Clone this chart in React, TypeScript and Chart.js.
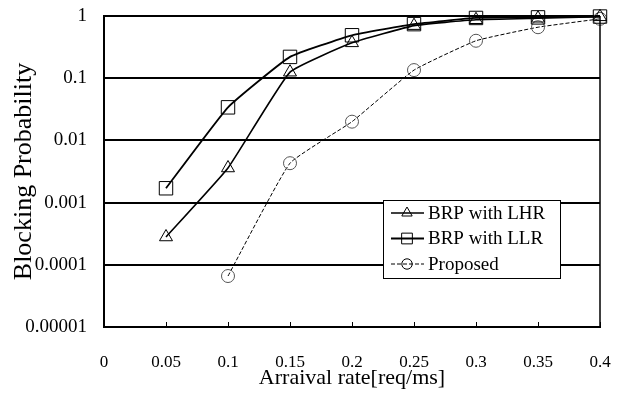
import React, { useEffect, useRef } from "react";
import { Chart, registerables } from "chart.js";

Chart.register(...registerables);

const xValues = [0.05, 0.1, 0.15, 0.2, 0.25, 0.3, 0.35, 0.4];
const lhrValues = [0.00028, 0.0036, 0.125, 0.37, 0.7, 0.87, 0.92, 0.97];
const llrValues = [0.0017, 0.034, 0.22, 0.49, 0.74, 0.93, 0.95, 0.98];
const proposedValues: (number | null)[] = [null, 0.000066, 0.0043, 0.02, 0.135, 0.4, 0.66, 0.9];

const xTickValues = [0, 0.05, 0.1, 0.15, 0.2, 0.25, 0.3, 0.35, 0.4];
const xTickLabels = ["0", "0.05", "0.1", "0.15", "0.2", "0.25", "0.3", "0.35", "0.4"];
const yTickValues = [0.00001, 0.0001, 0.001, 0.01, 0.1, 1];
const yTickLabels = ["0.00001", "0.0001", "0.001", "0.01", "0.1", "1"];

const seriesNames = ["BRP with LHR", "BRP with LLR", "Proposed"];
const xTitle = "Arraival rate[req/ms]";
const yTitle = "Blocking Probability";

const FONT = "'Liberation Serif', 'Times New Roman', serif";

function drawMarker(ctx: CanvasRenderingContext2D, style: string, x: number, y: number, r: number) {
  ctx.beginPath();
  if (style === "triangle") {
    const h = r * 1.5;
    const w = r * Math.sqrt(3);
    ctx.moveTo(x, y - r);
    ctx.lineTo(x + w / 2, y - r + h);
    ctx.lineTo(x - w / 2, y - r + h);
    ctx.closePath();
  } else if (style === "rect") {
    const s = r * Math.SQRT1_2;
    ctx.rect(x - s, y - s, 2 * s, 2 * s);
  } else {
    ctx.arc(x, y, r, 0, Math.PI * 2);
  }
  ctx.stroke();
}

export default function App() {
  const ref = useRef<HTMLCanvasElement>(null);

  useEffect(() => {
    const canvas = ref.current;
    if (!canvas) return;
    const mk = (vals: (number | null)[]) =>
      xValues.map((x, i) => ({ x, y: vals[i] })).filter((p) => p.y !== null);

    const framePlugin = {
      id: "framePlugin",
      afterDatasetsDraw(chart: any) {
        const { ctx, chartArea: a, scales } = chart;
        ctx.save();
        ctx.strokeStyle = "#000";
        ctx.lineWidth = 1.5;
        ctx.beginPath();
        ctx.moveTo(a.right, a.top);
        ctx.lineTo(a.right, a.bottom);
        ctx.stroke();
        ctx.lineWidth = 1;
        for (const v of xTickValues) {
          const px = Math.round(scales.x.getPixelForValue(v)) + 0.5;
          ctx.beginPath();
          ctx.moveTo(px, a.bottom);
          ctx.lineTo(px, a.bottom - 5);
          ctx.stroke();
        }
        // legend
        const lx = 383, ly = 200, lw = 177, lh = 78;
        ctx.fillStyle = "#fff";
        ctx.fillRect(lx, ly, lw, lh);
        ctx.lineWidth = 1;
        ctx.setLineDash([]);
        ctx.strokeRect(lx + 0.5, ly + 0.5, lw, lh);
        ctx.font = `19px ${FONT}`;
        ctx.textBaseline = "middle";
        ctx.fillStyle = "#000";
        chart.data.datasets.forEach((ds: any, i: number) => {
          const cy = 213 + i * 25.5;
          ctx.strokeStyle = "#000";
          ctx.lineWidth = ds.borderWidth;
          ctx.setLineDash(ds.borderDash || []);
          ctx.beginPath();
          ctx.moveTo(391, cy);
          ctx.lineTo(424, cy);
          ctx.stroke();
          ctx.setLineDash([]);
          ctx.lineWidth = 1;
          drawMarker(ctx, ds.pointStyle, 407, cy, ds.pointRadius * 0.8);
          ctx.fillText(seriesNames[i], 428, cy + 1);
        });
        ctx.restore();
      },
    };

    const chart = new Chart(canvas, {
      type: "line",
      data: {
        datasets: [
          {
            label: seriesNames[0],
            data: mk(lhrValues),
            borderColor: "#000",
            borderWidth: 1.6,
            pointStyle: "triangle",
            pointRadius: 7.5,
            pointBorderWidth: 1,
            pointBackgroundColor: "rgba(0,0,0,0)",
            pointBorderColor: "#000",
            tension: 0.12,
            clip: false,
          },
          {
            label: seriesNames[1],
            data: mk(llrValues),
            borderColor: "#000",
            borderWidth: 1.8,
            pointStyle: "rect",
            pointRadius: 9.5,
            pointBorderWidth: 1,
            pointBackgroundColor: "rgba(0,0,0,0)",
            pointBorderColor: "#000",
            tension: 0.12,
            clip: false,
          },
          {
            label: seriesNames[2],
            data: mk(proposedValues),
            borderColor: "#000",
            borderWidth: 1,
            borderDash: [4, 2],
            pointStyle: "circle",
            pointRadius: 6.5,
            pointBorderWidth: 1,
            pointBackgroundColor: "rgba(0,0,0,0)",
            pointBorderColor: "#555",
            tension: 0.12,
            clip: false,
          },
        ],
      },
      options: {
        animation: false,
        responsive: false,
        devicePixelRatio: 1,
        layout: { padding: 0 },
        plugins: { legend: { display: false }, tooltip: { enabled: false } },
        scales: {
          x: {
            type: "linear",
            min: 0,
            max: 0.4,
            afterBuildTicks: (scale: any) => {
              scale.ticks = xTickValues.map((v) => ({ value: v }));
            },
            afterFit: (scale: any) => {
              scale.height = 69;
              scale.paddingLeft = 0;
              scale.paddingRight = 21;
            },
            ticks: {
              autoSkip: false,
              maxRotation: 0,
              padding: 25,
              color: "#000",
              font: { family: FONT, size: 17 },
              callback: (_v: any, i: number) => xTickLabels[i],
            },
            grid: { display: false, drawTicks: false },
            border: { display: true, color: "#000", width: 2 },
            title: {
              display: true,
              text: xTitle,
              color: "#000",
              font: { family: FONT, size: 22 },
              padding: { top: 5, bottom: 5 },
            },
          },
          y: {
            type: "logarithmic",
            min: 0.00001,
            max: 1,
            afterBuildTicks: (scale: any) => {
              scale.ticks = yTickValues.map((v) => ({ value: v }));
            },
            afterFit: (scale: any) => {
              scale.width = 104;
              scale.paddingTop = 16;
              scale.paddingBottom = 0;
            },
            ticks: {
              autoSkip: false,
              padding: 17,
              color: "#000",
              font: { family: FONT, size: 19 },
              callback: (_v: any, i: number) => yTickLabels[i],
            },
            grid: { color: "#000", lineWidth: 2, drawTicks: false },
            border: { display: true, color: "#000", width: 2 },
            title: {
              display: true,
              text: yTitle,
              color: "#000",
              font: { family: FONT, size: 26 },
              padding: { top: 9, bottom: 9 },
            },
          },
        },
      },
      plugins: [framePlugin],
    } as any);

    return () => chart.destroy();
  }, []);

  return (
    <div style={{ position: "absolute", left: 0, top: 0, width: 621, height: 396, background: "#fff" }}>
      <canvas ref={ref} width={621} height={396} />
    </div>
  );
}
